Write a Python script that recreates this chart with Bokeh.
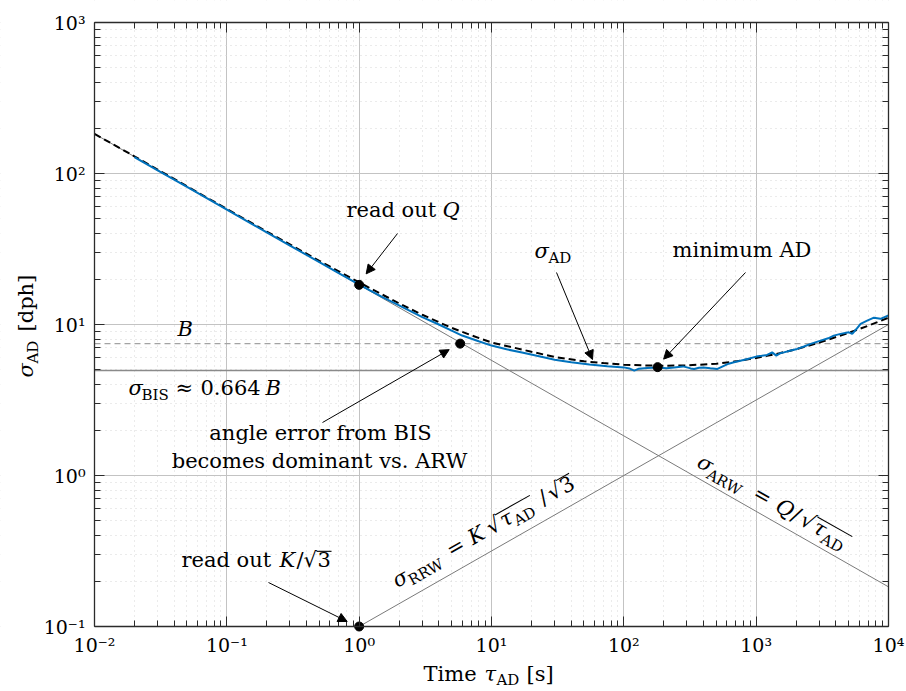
import math

from bokeh.plotting import figure
from bokeh.models import (FixedTicker, LogAxis, Label, Arrow, NormalHead,
                          Range1d, CustomJSTickFormatter, BoxAnnotation)
from bokeh.embed import file_html
from bokeh.resources import INLINE

# ---------------------------------------------------------------- data
# measured Allan deviation of the gyro (tau in s, sigma in deg/h)
tau_meas = [0.02, 0.03, 0.05, 0.1, 0.2, 0.3, 0.5, 0.7, 1.0, 1.5, 2.0, 3.0,
            4.0, 5.0, 6.0, 8.0, 10, 13, 17, 22, 30, 40, 55, 75, 100, 110,
            120, 130, 150, 180, 210, 240, 280, 320, 340, 370, 400, 450, 510,
            570, 620, 680, 760, 860, 1000, 1100, 1210, 1320, 1420, 1520,
            1620, 1800, 2040, 2300, 2580, 3070, 3500, 3860, 4340, 5010,
            5320, 5700, 6150, 6900, 7760, 8700, 10000]
sigma_meas = [128.5, 105.0, 81.5, 57.6, 40.7, 33.3, 25.9, 21.9, 18.4, 15.2,
              13.4, 11.2, 10.0, 9.1, 8.45, 7.75, 7.25, 6.85, 6.52, 6.2,
              5.85, 5.62, 5.43, 5.3, 5.2, 5.12, 4.95, 5.1, 5.16, 5.2, 5.14,
              5.2, 5.28, 5.12, 5.08, 5.17, 5.2, 5.14, 5.08, 5.32, 5.5, 5.62,
              5.76, 5.91, 6.13, 6.2, 6.29, 6.54, 6.22, 6.45, 6.54, 6.7,
              6.89, 7.15, 7.44, 7.82, 8.1, 8.44, 8.67, 8.88, 8.67, 9.3,
              10.1, 10.6, 11.1, 10.9, 11.5]

# fitted noise model (ARW + BIS + RRW)
tau_fit = [0.01, 0.02, 0.05, 0.1, 0.2, 0.5, 1, 2, 3, 5, 7, 10, 15, 20, 30,
           50, 70, 100, 150, 200, 300, 500, 700, 1000, 1500, 2000, 3000,
           5000, 7000, 10000]
sigma_fit = [183, 130, 82.3, 58.2, 41.3, 26.4, 19.0, 13.8, 11.6, 9.5, 8.5,
             7.6, 7.0, 6.6, 6.1, 5.7, 5.55, 5.42, 5.35, 5.33, 5.36, 5.5,
             5.7, 6.0, 6.45, 6.85, 7.6, 8.8, 9.8, 11.1]

# asymptotes: angle random walk and rate random walk
arw_tau = [1e-2, 1e4]
arw_sigma = [183, 0.183]
rrw_tau = [1.0, 1e4]
rrw_sigma = [0.1, 10.0]

# bias instability level B and the resulting sigma_BIS
B_level = 7.47
bis_factor = 0.664

# read-out points: Q, ARW meets B, minimum AD, K/sqrt(3)
mark_tau = [1.0, 5.8, 180.0, 1.0]
mark_sigma = [18.3, 7.47, 5.22, 0.1]

x_decades = [-2, -1, 0, 1, 2, 3, 4]
y_decades = [-1, 0, 1, 2, 3]

# ---------------------------------------------------------------- layout
FONT = "DejaVu Serif"
FS = 21          # annotation text size (px)
SS = 15          # subscript size (px)
TS = 19          # tick label size (px)
BASE_SHIFT = 0.36  # lift (in em) so a label's glyph baseline lands on y
TOTAL_W, TOTAL_H = 906, 691
L, T, W, H = 94, 22, 794, 604        # axes box on the page
XLO, XHI, YLO, YHI = -2, 4, -1, 3
X0, X1 = 10.0 ** XLO, 10.0 ** XHI
Y0, Y1 = 10.0 ** YLO, 10.0 ** YHI


def px2data(px, py):
    x = 10 ** (XLO + (px - L) / W * (XHI - XLO))
    y = 10 ** (YHI - (py - T) / H * (YHI - YLO))
    return x, y


def data2px(x, y):
    px = L + (math.log10(x) - XLO) / (XHI - XLO) * W
    py = T + (YHI - math.log10(y)) / (YHI - YLO) * H
    return px, py


# the drawing area spans the whole page; the axes sit at fixed locations
# around the log-log box so that titles around it are drawn as well
page_x0, page_y1 = px2data(0, 0)
page_x1, page_y0 = px2data(TOTAL_W, TOTAL_H)

p = figure(x_axis_type="log", y_axis_type="log",
           x_range=Range1d(page_x0, page_x1),
           y_range=Range1d(page_y0, page_y1),
           width=TOTAL_W, height=TOTAL_H,
           min_border_left=0, min_border_right=0, min_border_top=0,
           min_border_bottom=0, title=None,
           toolbar_location=None, output_backend="svg",
           background_fill_color="white", border_fill_color="white")
p.outline_line_color = None

xt = FixedTicker(ticks=[10.0 ** k for k in x_decades],
                 minor_ticks=[m * 10.0 ** k for k in x_decades[:-1]
                              for m in range(2, 10)])
yt = FixedTicker(ticks=[10.0 ** k for k in y_decades],
                 minor_ticks=[m * 10.0 ** k for k in y_decades[:-1]
                              for m in range(2, 10)])

bottom_axis = p.below[0]
left_axis = p.left[0]
top_axis = LogAxis()
right_axis = LogAxis()
p.add_layout(top_axis, "above")
p.add_layout(right_axis, "right")

pow10 = CustomJSTickFormatter(code="""
const e = Math.round(Math.log10(tick));
const s = {"-2": "\\u207b\\u00b2", "-1": "\\u207b\\u00b9", "0": "\\u2070",
           "1": "\\u00b9", "2": "\\u00b2", "3": "\\u00b3", "4": "\\u2074"};
return "10" + s[String(e)];
""")
blank = CustomJSTickFormatter(code="return ''")

for ax, tk, loc, fmt in ((bottom_axis, xt, Y0, pow10),
                         (top_axis, xt, Y1, blank),
                         (left_axis, yt, X0, pow10),
                         (right_axis, yt, X1, blank)):
    ax.ticker = tk
    ax.fixed_location = loc
    ax.bounds = (X0, X1) if tk is xt else (Y0, Y1)
    ax.formatter = fmt
    ax.axis_line_color = "#2b2b2b"
    ax.axis_line_width = 1.3
    ax.major_tick_line_color = "#2b2b2b"
    ax.minor_tick_line_color = "#2b2b2b"
    ax.major_tick_in = 10
    ax.major_tick_out = 0
    ax.minor_tick_in = 6
    ax.minor_tick_out = 0
    ax.major_label_text_font = FONT
    ax.major_label_text_font_size = f"{TS}px"
    ax.major_label_text_color = "black"
    ax.major_label_standoff = 0

bottom_axis.major_label_standoff = 7
left_axis.major_label_standoff = 9

for g, tk in ((p.xgrid, xt), (p.ygrid, yt)):
    g.ticker = tk
    g.grid_line_color = "#c3c3c3"
    g.grid_line_width = 1
    g.minor_grid_line_color = "#d6d6d6"
    g.minor_grid_line_dash = "1 4"
    g.minor_grid_line_width = 1

# keep the grid inside the axes box
for box in (BoxAnnotation(right=X0), BoxAnnotation(left=X1),
            BoxAnnotation(top=Y0), BoxAnnotation(bottom=Y1)):
    box.fill_color = "white"
    box.fill_alpha = 1.0
    box.line_color = None
    box.level = "underlay"
    p.add_layout(box)


def frame_dirs(ang):
    th = math.radians(ang)
    return (math.cos(th), -math.sin(th)), (-math.sin(th), -math.cos(th))


def put(text, px, py, size=FS, italic=False, angle=0.0, align="left"):
    # px, py: glyph baseline position on the page
    _, (nx, ny) = frame_dirs(angle)
    lift = BASE_SHIFT * size
    x, y = px2data(px + lift * nx, py + lift * ny)
    p.add_layout(Label(
        x=x, y=y, text=text, text_font=FONT, text_font_size=f"{size}px",
        text_font_style="italic" if italic else "normal",
        text_align=align, text_baseline="alphabetic",
        angle=angle, angle_units="deg", text_color="black"))


def put_rot(pieces, ox, oy, ang):
    (ux, uy), (nx, ny) = frame_dirs(ang)
    for text, d, s, size, italic in pieces:
        put(text, ox + d * ux + s * nx, oy + d * uy + s * ny, size, italic,
            angle=ang)


def bar_rot(d1, d2, h, ox, oy, ang):
    (ux, uy), (nx, ny) = frame_dirs(ang)
    a = px2data(ox + d1 * ux + h * nx, oy + d1 * uy + h * ny)
    b = px2data(ox + d2 * ux + h * nx, oy + d2 * uy + h * ny)
    p.line([a[0], b[0]], [a[1], b[1]], line_color="black", line_width=1.1)


# ---------------------------------------------------------------- curves
p.line([X0, X1], [B_level, B_level], line_color="#a3a3a3", line_width=1.3,
       line_dash="6 4")
p.line([X0, X1], [bis_factor * B_level] * 2, line_color="#8a8a8a",
       line_width=1.3)

p.line(arw_tau, arw_sigma, line_color="#7a7a7a", line_width=1)
p.line(rrw_tau, rrw_sigma, line_color="#7a7a7a", line_width=1)

p.line(tau_fit, sigma_fit, line_color="black", line_width=2,
       line_dash="7 4")
p.line(tau_meas, sigma_meas, line_color="#0072BD", line_width=2)

p.scatter(mark_tau, mark_sigma, size=9, marker="circle",
          fill_color="black", line_color="black")

# ---------------------------------------------------------------- annotations
BAR_H = 0.77 * FS     # height of a square-root bar above the baseline
RAD_W = 0.62 * FS     # width of the radical sign

put("read out", 346, 217)
put("Q", 442, 217, italic=True)

put("\u03c3", 534, 258, italic=True)
put("AD", 548, 263, SS)

put("minimum AD", 672, 257)

put("B", 177, 336, italic=True)

put("\u03c3", 128, 395, italic=True)
put("BIS", 141, 400, SS)
put("\u2248", 175, 395)
put("0.664", 200, 395)
put("B", 265, 395, italic=True)

put("angle error from BIS", 320, 440, align="center")
put("becomes dominant vs. ARW", 319, 468, align="center")

KX = 98
put_rot([("read out", 0, 0, FS, False), ("K", KX, 0, FS, True),
         ("/", KX + 17, 0, FS, False), ("\u221a", KX + 24, 0, FS, False),
         ("3", KX + 25 + RAD_W, 0, FS, False)], 181, 567, 0)
bar_rot(KX + 24 + RAD_W, KX + 24 + RAD_W + 15, BAR_H, 181, 567, 0)

# sigma_RRW = K sqrt(tau_AD) / sqrt(3), along the RRW asymptote
ORX, ORY, ANG_R = 397, 588, 29.4
put_rot([("\u03c3", 0, 0, FS, True), ("RRW", 14, -5, SS, False),
         ("=", 62, 0, FS, False), ("K", 87, 0, FS, True),
         ("\u221a", 108, 0, FS, False), ("\u03c4", 108 + RAD_W + 2, 0, FS, True),
         ("AD", 108 + RAD_W + 14, -5, SS, False), ("/", 168, 0, FS, False),
         ("\u221a", 178, 0, FS, False), ("3", 178 + RAD_W + 1, 0, FS, False)],
        ORX, ORY, ANG_R)
bar_rot(108 + RAD_W, 108 + RAD_W + 40, BAR_H, ORX, ORY, ANG_R)
bar_rot(178 + RAD_W, 178 + RAD_W + 15, BAR_H, ORX, ORY, ANG_R)

# sigma_ARW = Q / sqrt(tau_AD), along the ARW asymptote
OAX, OAY, ANG_A = 695, 466, -29.5
put_rot([("\u03c3", 0, 0, FS, True), ("ARW", 14, -5, SS, False),
         ("=", 64, 0, FS, False), ("Q", 90, 0, FS, True),
         ("/", 108, 0, FS, False), ("\u221a", 118, 0, FS, False),
         ("\u03c4", 118 + RAD_W + 2, 0, FS, True),
         ("AD", 118 + RAD_W + 14, -5, SS, False)],
        OAX, OAY, ANG_A)
bar_rot(118 + RAD_W, 118 + RAD_W + 40, BAR_H, OAX, OAY, ANG_A)

# arrows: from text to the read-out points (offsets in px)
arrow_specs = [
    ((397, 233), (mark_tau[0], mark_sigma[0]), (7, -11)),
    ((322, 422), (mark_tau[1], mark_sigma[1]), (-11, 6)),
    ((745, 272), (mark_tau[2], mark_sigma[2]), (6, -8)),
    ((268, 582), (mark_tau[3], mark_sigma[3]), (-12, -5)),
]
for (sx, sy), (mx, my), (dx, dy) in arrow_specs:
    ex, ey = data2px(mx, my)
    xs, ys = px2data(sx, sy)
    xe, ye = px2data(ex + dx, ey + dy)
    p.add_layout(Arrow(x_start=xs, y_start=ys, x_end=xe, y_end=ye,
                       line_color="black", line_width=1,
                       end=NormalHead(size=9, fill_color="black",
                                      line_color="black")))

# arrow to the sigma_AD curve
fs_x, fs_y = px2data(556, 272)
fe_x, fe_y = px2data(592, 359)
p.add_layout(Arrow(x_start=fs_x, y_start=fs_y, x_end=fe_x, y_end=fe_y,
                   line_color="black", line_width=1,
                   end=NormalHead(size=9, fill_color="black",
                                  line_color="black")))

# ---------------------------------------------------------------- axis titles
put("Time", 423, 681)
put("\u03c4", 484, 681, italic=True)
put("AD", 496, 685, SS)
put("[s]", 526, 681)

put_rot([("\u03c3", 0, 0, FS, True), ("AD", 14, -5, SS, False),
         ("[dph]", 46, 0, FS, False)], 33, 377, 90)

open("out.html", "w").write(file_html(p, INLINE))
